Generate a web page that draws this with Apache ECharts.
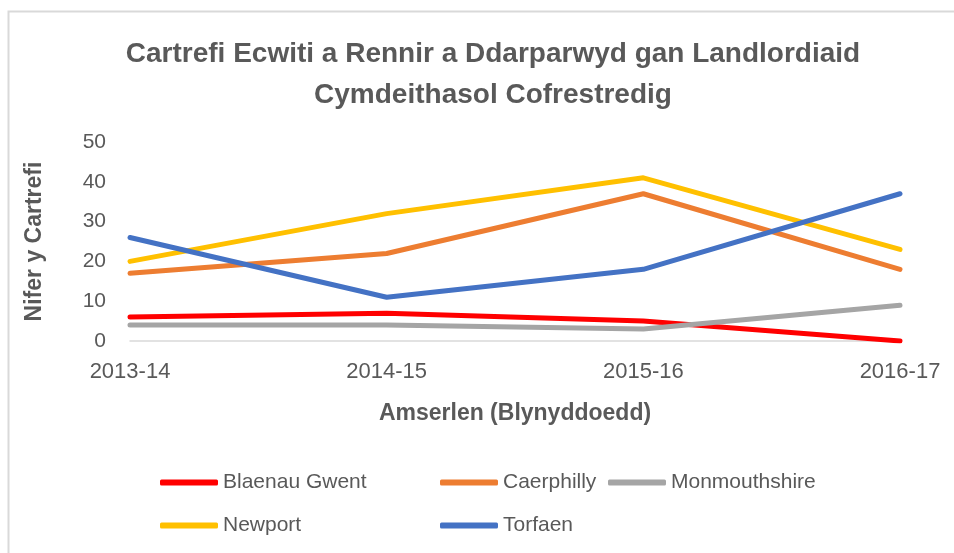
<!DOCTYPE html>
<html>
<head>
<meta charset="utf-8">
<script src="https://cdn.jsdelivr.net/npm/echarts@6/dist/echarts.min.js"></script>
<style>
html, body { margin: 0; padding: 0; background: #fff; }
#container { width: 954px; height: 553px; }
</style>
</head>
<body>
<div id="container"></div>
<script>
var years = ['2013-14', '2014-15', '2015-16', '2016-17'];
var names = ['Blaenau Gwent', 'Caerphilly', 'Monmouthshire', 'Newport', 'Torfaen'];
var colors = ['#ff0000', '#ed7d31', '#a5a5a5', '#ffc000', '#4472c4'];
var blaenauGwent = [6, 7, 5, 0];
var caerphilly = [17, 22, 37, 18];
var monmouthshire = [4, 4, 3, 9];
var newport = [20, 32, 41, 23];
var torfaen = [26, 11, 18, 37];
var values = [blaenauGwent, caerphilly, monmouthshire, newport, torfaen];

var font = "'Liberation Sans', sans-serif";
var grey = '#595959';

var dom = document.getElementById('container');
var myChart = echarts.init(dom);

// one legend per entry, placed like the Excel grid
var legendPos = [[160, 472], [440, 472], [608, 472], [160, 515], [440, 515]];
var legends = names.map(function (n, i) {
    return {
        data: [n],
        left: legendPos[i][0],
        top: legendPos[i][1],
        padding: 0,
        icon: 'roundRect',
        itemWidth: 58,
        itemHeight: 6,
        textStyle: { color: grey, fontSize: 21, fontFamily: font }
    };
});

var option = {
    animation: false,
    // chart area frame, runs off the right and bottom edge
    graphic: [{
        type: 'rect',
        shape: { x: 8.5, y: 11.5, width: 1000, height: 600 },
        style: { fill: 'none', stroke: '#d9d9d9', lineWidth: 2 },
        silent: true
    }],
    title: {
        text: 'Cartrefi Ecwiti a Rennir a Ddarparwyd gan Landlordiaid\nCymdeithasol Cofrestredig',
        left: 488,
        top: 29,
        textAlign: 'center',
        textStyle: {
            color: grey,
            fontSize: 28,
            fontWeight: 'bold',
            fontFamily: font,
            lineHeight: 41
        }
    },
    legend: legends,
    grid: { left: 130, right: 54, top: 142, bottom: 212 },
    xAxis: {
        type: 'category',
        data: years,
        boundaryGap: false,
        name: 'Amserlen (Blynyddoedd)',
        nameLocation: 'middle',
        nameGap: 61,
        nameTextStyle: { color: grey, fontSize: 23, fontWeight: 'bold', fontFamily: font },
        axisLine: { lineStyle: { color: '#d9d9d9', width: 1.5 } },
        axisTick: { show: false },
        axisLabel: { color: grey, fontSize: 22, fontFamily: font, margin: 20 }
    },
    yAxis: {
        type: 'value',
        min: 0,
        max: 50,
        interval: 10,
        name: 'Nifer y Cartrefi',
        nameLocation: 'middle',
        nameGap: 84,
        nameTextStyle: { color: grey, fontSize: 23, fontWeight: 'bold', fontFamily: font },
        splitLine: { show: false },
        axisLine: { show: false },
        axisTick: { show: false },
        axisLabel: { color: grey, fontSize: 21, fontFamily: font, margin: 24 }
    },
    series: names.map(function (n, i) {
        return {
            name: n,
            type: 'line',
            data: values[i],
            showSymbol: false,
            symbol: 'none',
            color: colors[i],
            lineStyle: { width: 5, color: colors[i], cap: 'round', join: 'round' }
        };
    })
};

myChart.setOption(option, true);
</script>
</body>
</html>
